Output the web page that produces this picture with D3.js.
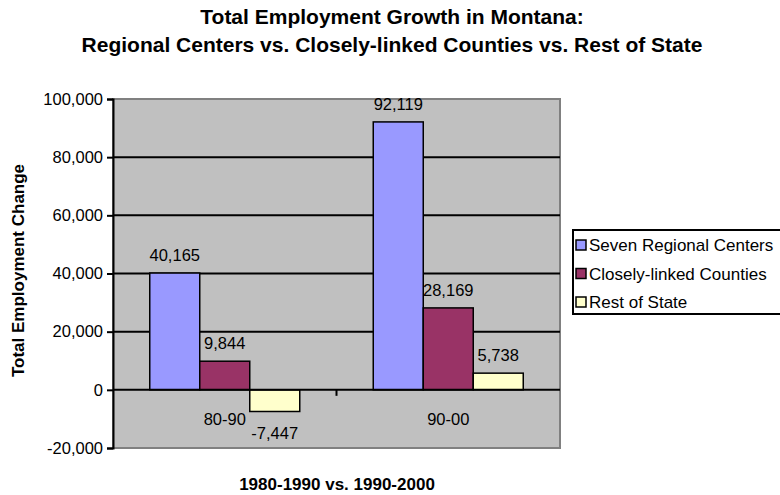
<!DOCTYPE html>
<html>
<head>
<meta charset="utf-8">
<script src="https://cdn.jsdelivr.net/npm/d3@7"></script>
<style>
  html, body { margin: 0; padding: 0; background: #fff; }
  svg { display: block; font-family: "Liberation Sans", Arial, sans-serif; }
</style>
</head>
<body>
<svg id="chart" width="780" height="495"></svg>
<script>
// Employment change by period and region type
const periods = ["80-90", "90-00"];
const seriesNames = ["Seven Regional Centers", "Closely-linked Counties", "Rest of State"];
const regionalCenters = [40165, 92119];
const closelyLinked = [9844, 28169];
const restOfState = [-7447, 5738];
const yTicks = [-20000, 0, 20000, 40000, 60000, 80000, 100000];
const seriesColors = ["#9999ff", "#993366", "#ffffcc"];

const seriesValues = [regionalCenters, closelyLinked, restOfState];

const svg = d3.select("#chart");
const plot = { left: 113, right: 560, top: 99, bottom: 448 };

const y = d3.scaleLinear().domain([-20000, 100000]).range([plot.bottom, plot.top]);
const x = d3.scaleBand().domain(periods).range([plot.left, plot.right]);
const barW = 50;
const groupW = barW * seriesNames.length;
const xs = d3.scaleBand().domain(seriesNames)
  .range([(x.bandwidth() - groupW) / 2, (x.bandwidth() + groupW) / 2]);

// thousands separator with a plain hyphen for negatives
const fmt = d3.formatLocale({ decimal: ".", thousands: ",", grouping: [3], currency: ["$", ""], minus: "-" }).format(",");

// Titles
svg.append("text").attr("x", 392).attr("y", 24).attr("text-anchor", "middle")
  .attr("font-size", 21).attr("font-weight", "bold").text("Total Employment Growth in Montana:");
svg.append("text").attr("x", 392).attr("y", 52).attr("text-anchor", "middle")
  .attr("font-size", 21).attr("font-weight", "bold")
  .text("Regional Centers vs. Closely-linked Counties vs. Rest of State");

// Plot area
svg.append("rect")
  .attr("x", plot.left).attr("y", plot.top)
  .attr("width", plot.right - plot.left).attr("height", plot.bottom - plot.top)
  .attr("fill", "#c0c0c0").attr("stroke", "#808080").attr("stroke-width", 2);

// Gridlines
svg.append("g").selectAll("line")
  .data(yTicks.filter(t => t !== -20000 && t !== 100000 && t !== 0))
  .join("line")
  .attr("x1", plot.left).attr("x2", plot.right)
  .attr("y1", d => y(d)).attr("y2", d => y(d))
  .attr("stroke", "#000").attr("stroke-width", 2);

// Bars
const rows = [];
periods.forEach((p, i) => seriesNames.forEach((s, j) => rows.push({ period: p, series: s, value: seriesValues[j][i], color: seriesColors[j] })));

svg.append("g").selectAll("rect")
  .data(rows)
  .join("rect")
  .attr("x", d => x(d.period) + xs(d.series))
  .attr("width", xs.bandwidth())
  .attr("y", d => y(Math.max(0, d.value)))
  .attr("height", d => Math.abs(y(d.value) - y(0)))
  .attr("fill", d => d.color)
  .attr("stroke", "#000").attr("stroke-width", 1.5);

// Value labels
svg.append("g").selectAll("text")
  .data(rows)
  .join("text")
  .attr("x", d => x(d.period) + xs(d.series) + xs.bandwidth() / 2)
  .attr("y", d => d.value >= 0 ? y(d.value) - 12 : y(d.value) + 28)
  .attr("text-anchor", "middle")
  .attr("font-size", 16.5)
  .text(d => fmt(d.value));

// Zero line / category axis
svg.append("line")
  .attr("x1", plot.left).attr("x2", plot.right)
  .attr("y1", y(0)).attr("y2", y(0))
  .attr("stroke", "#000").attr("stroke-width", 2);
svg.append("g").selectAll("line")
  .data(periods.slice(1))
  .join("line")
  .attr("x1", d => x(d)).attr("x2", d => x(d))
  .attr("y1", y(0)).attr("y2", y(0) + 6)
  .attr("stroke", "#000").attr("stroke-width", 2);
svg.append("g").selectAll("text")
  .data(periods)
  .join("text")
  .attr("x", d => x(d) + x.bandwidth() / 2)
  .attr("y", y(0) + 35)
  .attr("text-anchor", "middle")
  .attr("font-size", 16.5)
  .text(d => d);

// Value axis
const yAxis = d3.axisLeft(y).tickValues(yTicks).tickSize(6).tickPadding(4).tickFormat(fmt);
const gy = svg.append("g").attr("transform", `translate(${plot.left},0)`).call(yAxis);
gy.select(".domain").attr("stroke", "#000").attr("stroke-width", 2);
gy.selectAll(".tick line").attr("stroke", "#000").attr("stroke-width", 2);
gy.selectAll(".tick text").attr("font-size", 16.5).attr("fill", "#000")
  .attr("font-family", "Liberation Sans, Arial, sans-serif");

// Axis titles
svg.append("text")
  .attr("transform", `translate(24,${(plot.top + plot.bottom) / 2 - 3}) rotate(-90)`)
  .attr("text-anchor", "middle").attr("font-size", 17).attr("font-weight", "bold")
  .text("Total Employment Change");
svg.append("text").attr("x", 337).attr("y", 490).attr("text-anchor", "middle")
  .attr("font-size", 17).attr("font-weight", "bold").text("1980-1990 vs. 1990-2000");

// Legend
const legend = svg.append("g").attr("transform", "translate(573,230)");
legend.append("rect").attr("x", 0).attr("y", 0).attr("width", 212).attr("height", 84)
  .attr("fill", "#fff").attr("stroke", "#000").attr("stroke-width", 2);
const items = legend.selectAll("g.item").data(seriesNames).join("g")
  .attr("class", "item")
  .attr("transform", (d, i) => `translate(3,${15 + i * 28.5})`);
items.append("rect").attr("x", 0).attr("y", -5).attr("width", 10).attr("height", 10)
  .attr("fill", (d, i) => seriesColors[i]).attr("stroke", "#000").attr("stroke-width", 1.5);
items.append("text").attr("x", 13).attr("y", 6).attr("font-size", 17).text(d => d);
</script>
</body>
</html>
